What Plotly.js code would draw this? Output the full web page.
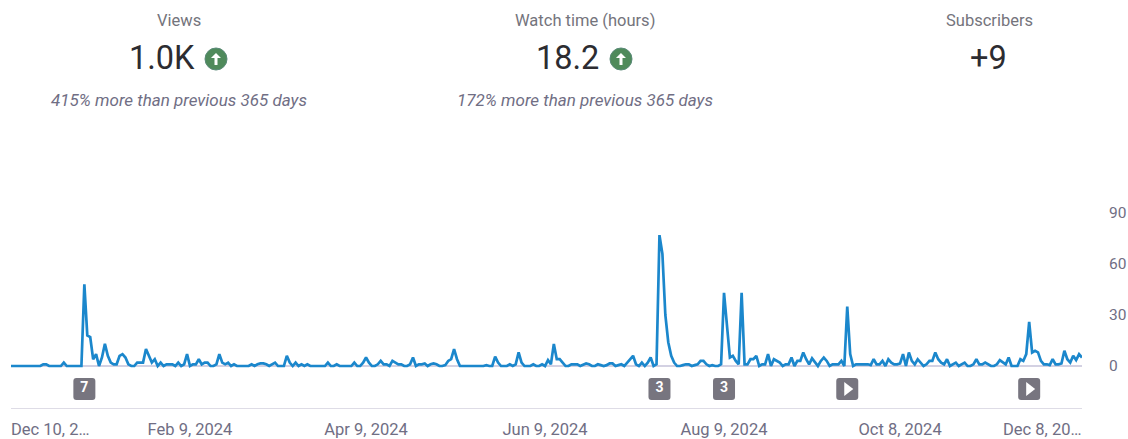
<!DOCTYPE html>
<html><head><meta charset="utf-8">
<script src="https://cdn.plot.ly/plotly-3.0.1.min.js"></script>
<style>html,body{margin:0;padding:0;background:#fff}#c{width:1128px;height:439px}</style>
</head><body><div id="c"></div>
<script>
const startDate = '2023-12-10';
const views = [
0,0,0,0,0,0,0,0,0,0,
0,1,1,0,0,0,0,0,2,0,
0,0,0,0,0,48,18,17,4,7,
0,5,13,6,2,1,1,6,7,5,
1,0,0,2,2,2,10,6,2,4,
0,2,0,1,1,1,0,2,0,1,
7,0,1,1,4,1,2,2,0,0,
1,7,2,1,2,0,1,0,0,0,
0,0,1,0,1,1.5,1.5,1,0,1,
2,0,0,0,6,2,0,2,0,1,
0,1,0,0,0,0,0,0,2,0,
0,1,0,0,0,0,0,2,0,0,
2,5,2,0,0,1,3,1,1,0,
3,2,1,1,0,0,1,5,0,1,
1,1.5,0,1,1.5,1,0,0,0.5,3,
4,10,4,0,0,0,0,0,0,0,
0,0,0.5,0,0,5.5,2,0,0,0,
1,0,1,8,2,0,0,0,1,0,
0,1,0,3.5,1,13,4,4,2,0,
0,1,1,1,0,1,1.5,1,0,0,
1,0.5,0,0.5,1.5,1.5,0,0.5,1,0,
2,4,6,1,0,2,0,2,5,0,
1,77,66,30,14,6,2,0,0,0.5,
1,1,0,0.5,1,3,3,1,0,0.5,
0,0,1,43,25,5,6,3,1,43,
1,1,4,4,6,0,1,1,7,0,
4,3,2,0,1,1,5,0,3,3,
8,4,1,4.5,2,0,3,5,3,0,
1,1,1,3,0,35,7,0,1,1,
1,1,1,0.5,4,1,1,3,0,4,
2,1,1,1.5,7,0,8,3,1,4,
2,0,1,3,3,8,4,2,1,4,
0,1,2,0,1,2,0,0,1,4,
1,1,2,1,0,0,1,3.5,2,1,
5,0,0,0,4,3,7,26,8,9,
8,3,1,1,0.5,4,1,1,1.5,9,
4,2,6,3.5,7,5];
const tickDates = ['2024-02-09','2024-04-09','2024-06-09','2024-08-09','2024-10-08'];
const tickLabels = ['Feb 9, 2024','Apr 9, 2024','Jun 9, 2024','Aug 9, 2024','Oct 8, 2024'];
const firstLabel = 'Dec 10, 2…', lastLabel = 'Dec 8, 20…';
const yTicks = [0,30,60,90];
const badgeDates = ['2024-01-04','2024-07-18','2024-08-09','2024-09-20','2024-11-21'];
const badgeTexts = ['7','3','3','',''];
const playDates = ['2024-09-20','2024-11-21'];
const kpiTitles = ['Views','Watch time (hours)','Subscribers'];
const kpiValues = ['1.0K','18.2','+9'];
const kpiNotes = ['415% more than previous 365 days','172% more than previous 365 days'];

const dates = views.map((_, i) => {
  const d = new Date(startDate + 'T00:00:00Z');
  d.setUTCDate(d.getUTCDate() + i);
  return d.toISOString().slice(0, 10);
});

const L = 11, R = 1082, T = 200, B = 408;
const px = x => (x - L) / (R - L);
const py = y => (B - y) / (B - T);
const FONT = 'Roboto, sans-serif';
const GREY = '#706e84';
const BADGE_Y = -13.5;

const annotations = [];
const ann = (x, y, text, size, color, extra) => annotations.push(Object.assign({
  xref: 'paper', yref: 'paper', x: px(x), y: py(y), text, showarrow: false,
  xanchor: 'center', yanchor: 'middle',
  font: {family: FONT, size, color}
}, extra || {}));

ann(179, 20, kpiTitles[0], 16.5, '#74747c');
ann(585, 20, kpiTitles[1], 16.5, '#74747c');
ann(989, 20, kpiTitles[2], 16.5, '#74747c');
ann(162, 58, kpiValues[0], 32.5, '#2c2c31');
ann(567, 58, kpiValues[1], 32.5, '#2c2c31');
ann(988, 58, kpiValues[2], 32.5, '#2c2c31');
ann(179, 100, '<i>' + kpiNotes[0] + '</i>', 17, GREY);
ann(585, 100, '<i>' + kpiNotes[1] + '</i>', 17, GREY);
ann(9, 429, firstLabel, 16.5, GREY, {xanchor: 'left'});
ann(1084, 429, lastLabel, 16.5, GREY, {xanchor: 'right'});

const shapes = [];
[216, 621].forEach(cx => {
  const cy = 59, r = 11;
  shapes.push({type:'circle', xref:'paper', yref:'paper', x0:px(cx-r), x1:px(cx+r), y0:py(cy+r), y1:py(cy-r),
    fillcolor:'#4f8a5b', line:{color:'#5a8a78', width:1}});
  const p = (x,y) => px(cx+x).toFixed(5) + ',' + py(cy+y).toFixed(5);
  shapes.push({type:'path', xref:'paper', yref:'paper',
    path:'M'+p(0,-6)+' L'+p(5,-1)+' L'+p(1.5,-1)+' L'+p(1.5,6)+' L'+p(-1.5,6)+' L'+p(-1.5,-1)+' L'+p(-5,-1)+' Z',
    fillcolor:'#ffffff', line:{width:0}});
});
// zero line (stops at the plot edge)
shapes.push({type:'line', xref:'paper', yref:'y', x0:0, x1:1, y0:0, y1:0, layer:'below',
  line:{color:'#a7a3c6', width:1}});
// rounded badge backgrounds, anchored to the data
badgeDates.forEach(d => {
  shapes.push({type:'path', layer:'below', xref:'x', yref:'y', xsizemode:'pixel', ysizemode:'pixel',
    xanchor:d, yanchor:BADGE_Y,
    path:'M-8,-11 L8,-11 Q11,-11 11,-8 L11,8 Q11,11 8,11 L-8,11 Q-11,11 -11,8 L-11,-8 Q-11,-11 -8,-11 Z',
    fillcolor:'#77757f', line:{width:0}});
});

const traces = [
  {x: dates, y: views, type:'scatter', mode:'lines', line:{color:'#1b87cc', width:2.7, shape:'linear'}, hoverinfo:'skip', cliponaxis:false},
  {x: badgeDates, y: badgeDates.map(() => BADGE_Y), type:'scatter', mode:'text',
   text: badgeTexts, textposition:'middle center',
   textfont:{family:FONT, size:14, color:'#ffffff', weight:700}, hoverinfo:'skip', cliponaxis:false},
  {x: playDates, y: playDates.map(() => BADGE_Y), type:'scatter', mode:'markers',
   marker:{symbol:'triangle-right', size:12, color:'#ffffff'}, hoverinfo:'skip', cliponaxis:false}
];

const layout = {
  width: 1128, height: 439, showlegend: false,
  paper_bgcolor:'#ffffff', plot_bgcolor:'#ffffff',
  margin:{l:L, r:1128-R, t:T, b:439-B, pad:0},
  xaxis:{type:'date', range:[dates[0], dates[dates.length-1]], tickmode:'array', tickvals:tickDates, ticktext:tickLabels,
    showgrid:false, zeroline:false, showline:true, linecolor:'#dedce6', linewidth:1,
    ticks:'outside', ticklen:6, tickcolor:'rgba(0,0,0,0)', tickangle:0,
    tickfont:{family:FONT, size:16.5, color:GREY}, fixedrange:true},
  yaxis:{side:'right', range:[-24.7, 97.65], tickmode:'array', tickvals:yTicks, ticktext:yTicks.map(String),
    showgrid:false, zeroline:false, showline:false,
    ticks:'outside', ticklen:23, tickcolor:'rgba(0,0,0,0)',
    tickfont:{family:FONT, size:15.5, color:GREY}, fixedrange:true},
  annotations, shapes
};
Plotly.newPlot('c', traces, layout, {displayModeBar:false, staticPlot:true});
</script></body></html>
